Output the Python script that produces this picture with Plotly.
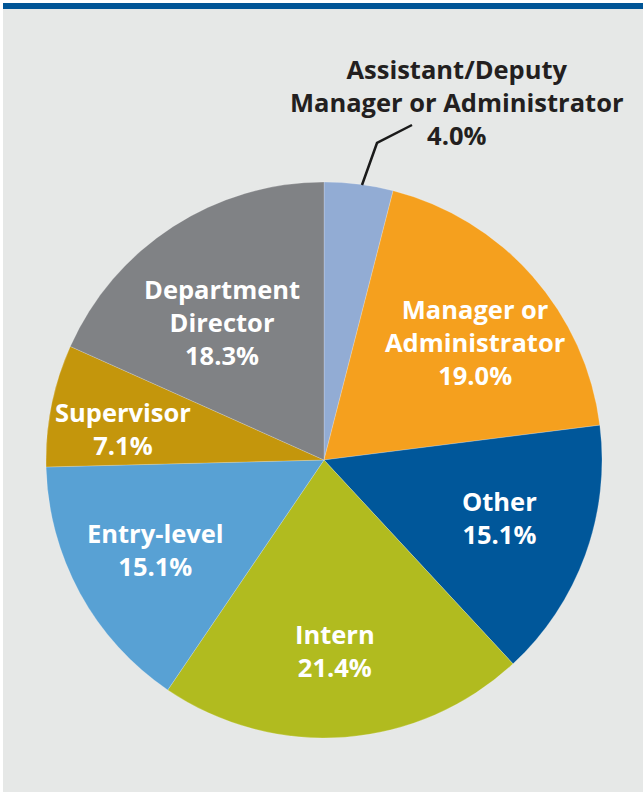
import plotly.graph_objects as go

# pie data, clockwise from 12 o'clock
labels = ['Assistant/Deputy Manager or Administrator', 'Manager or Administrator',
          'Other', 'Intern', 'Entry-level', 'Supervisor', 'Department Director']
shares = [4.0, 19.0, 15.1, 21.4, 15.1, 7.1, 18.3]
colors = ['#92acd4', '#f5a01e', '#00579a', '#b1bb1f', '#58a1d4', '#c4960c', '#808285']

# label text and where it sits (pixel centres of the text block)
label_text = ['Assistant/Deputy<br>Manager or Administrator', 'Manager or<br>Administrator',
              'Other', 'Intern', 'Entry-level', 'Supervisor', 'Department<br>Director']
label_px = [(457, 102), (475, 342), (499, 517), (335, 650), (155, 549), (123, 429), (222, 322)]

W, H = 643, 792
cx, cy, r = 324, 460, 278

fig = go.Figure(go.Pie(
    labels=labels, values=shares, sort=False, direction='clockwise', rotation=0,
    marker=dict(colors=colors, line=dict(color='rgba(255,255,255,0.35)', width=0.6)),
    textinfo='none', hoverinfo='label+percent', showlegend=False,
    domain=dict(x=[(cx - r) / W, (cx + r) / W], y=[1 - (cy + r) / H, 1 - (cy - r) / H]),
))

for i, (txt, val) in enumerate(zip(label_text, shares)):
    x, y = label_px[i]
    dark = i == 0
    fig.add_annotation(
        x=x / W, y=1 - y / H, xref='paper', yref='paper', xanchor='center', yanchor='middle',
        text=f'{txt}<br>{val:.1f}%', showarrow=False, align='center',
        font=dict(family='Open Sans', size=25.5, color='#231f20' if dark else 'white', weight='bold'),
    )

# leader line for the small slice
lead_x = [412, 377, 362]
lead_y = [125, 143, 185]
fig.add_shape(type='path', xref='paper', yref='paper',
              path='M ' + ' L '.join(f'{x / W},{1 - y / H}' for x, y in zip(lead_x, lead_y)),
              line=dict(color='#1a1a1a', width=2.5))

# panel background and top rule
fig.add_shape(type='rect', xref='paper', yref='paper', x0=3 / W, x1=1, y0=0, y1=1 - 9 / H,
              fillcolor='#e6e8e7', line_width=0, layer='below')
fig.add_shape(type='rect', xref='paper', yref='paper', x0=3 / W, x1=1, y0=1 - 9 / H, y1=1 - 3 / H,
              fillcolor='#005596', line_width=0, layer='below')

fig.update_layout(
    width=W, height=H, margin=dict(l=0, r=0, t=0, b=0),
    paper_bgcolor='white', plot_bgcolor='rgba(0,0,0,0)',
)

fig.write_html('out.html', config={'displayModeBar': False},
               post_script="document.body.style.margin='0';")
